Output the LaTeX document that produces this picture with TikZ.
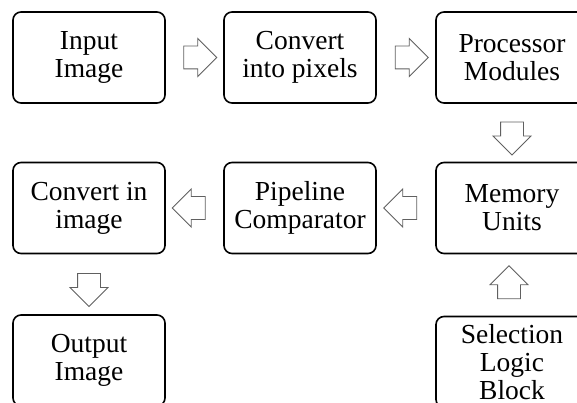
\documentclass[tikz,border=0pt]{standalone}
\usepackage{fontspec}
\setmainfont{Liberation Serif}
\usetikzlibrary{shapes.arrows,calc}

\begin{document}
\begin{tikzpicture}[x=1pt,y=-1pt,
  stage/.style={draw,line width=1.6pt,rounded corners=8pt,minimum width=152pt,minimum height=91pt,inner sep=0pt,align=center,font=\fontsize{27.5}{28}\selectfont},
  hollow/.style={single arrow,draw=gray!75!black,line width=0.9pt,fill=white,minimum height=33pt,inner xsep=0pt,inner ysep=11pt,single arrow head extend=7.5pt}]
\useasboundingbox (0,0) rectangle (577,403);
\clip (0,0) rectangle (577,403);

\node[stage] (input) at (89,57.5) {Input\\Image};
\node[stage] (pixels) at (300,57.5) {Convert\\into pixels};
\node[stage] (proc) at (512,57.5) {Processor\\Modules};
\node[stage] (mem) at (512,208) {Memory\\Units};
\node[stage] (pipe) at (300,208) {Pipeline\\Comparator};
\node[stage] (toimg) at (89,208) {Convert in\\image};
\node[stage] (output) at (89,360.5) {Output\\Image};
\node[stage] (select) at (512,362) {Selection\\Logic\\Block};

\node[hollow] (a1) at ($(input.east)!.5!(pixels.west)$) {};
\node[hollow] (a2) at ($(pixels.east)!.5!(proc.west)$) {};
\node[hollow,rotate=-90] (a3) at ($(proc.south)!.5!(mem.north)$) {};
\node[hollow,rotate=180] (a4) at ($(mem.west)!.5!(pipe.east)$) {};
\node[hollow,rotate=180] (a5) at ($(pipe.west)!.5!(toimg.east)$) {};
\node[hollow,rotate=-90] (a6) at ($(toimg.south)!.5!(output.north)$) {};
\node[hollow,rotate=90] (a7) at ($(select.north)!.5!(mem.south)+(-3,3)$) {};
\end{tikzpicture}
\end{document}
